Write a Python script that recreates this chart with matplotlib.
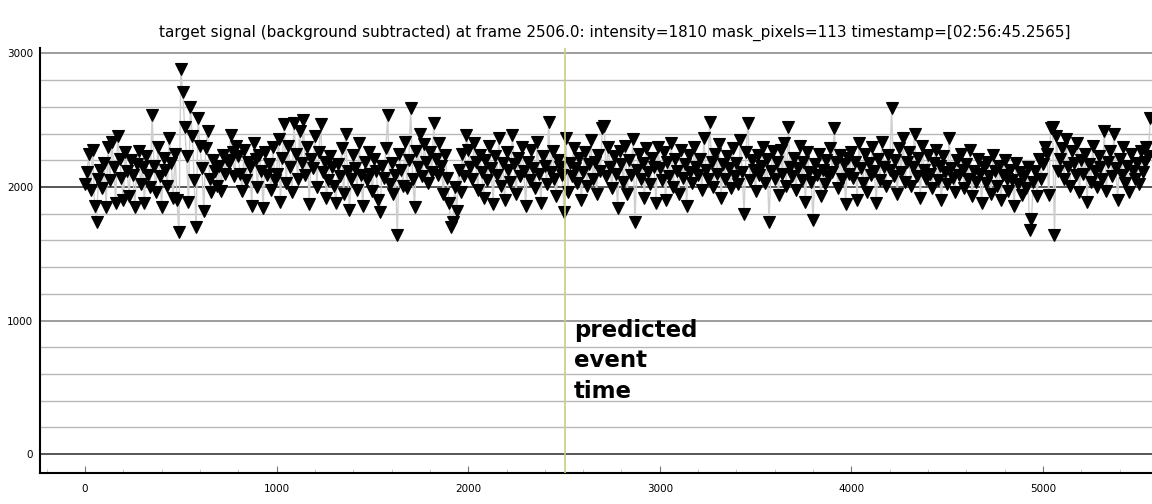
import matplotlib
matplotlib.use("Agg")
import matplotlib.pyplot as plt
import numpy as np

frame_step = 10
seg_0 = [2020, 2110, 2250, 1980, 2280, 1860, 1740, 2060, 2130, 1990,
         2180, 1850, 2300, 2050, 2340, 2150, 1880, 2380, 2210, 2070,
         1900, 2260, 2120, 1930, 2200, 2090, 1850, 2170, 2270, 2020,
         2150, 1880, 2230, 2090, 2000, 2540, 2160, 1960, 2300, 2080,
         1850, 2220, 2130, 2010, 2370, 2180, 1920, 2250, 1900, 1660,
         2880, 2710, 2450, 2230, 1890, 2600, 2380, 2050, 1700, 2520,
         2310, 2140, 1820, 2290, 2420, 2060, 1960, 2200, 2120, 2010,
         2160, 1970, 2240, 2100, 2200, 2180, 2390, 2260, 2080, 2310,
         2230, 2100, 1970, 2280, 2050, 2190, 2150, 1860, 2330, 2210,
         2000, 2240, 2120, 1840, 2260, 2090, 2170, 1980, 2300, 2050]
seg_1 = [2100, 2360, 1890, 2220, 2470, 2030, 2310, 2150, 1960, 2480,
         2250, 2060, 2420, 2180, 2500, 2090, 2300, 1870, 2210, 2140,
         2380, 2000, 2260, 2470, 2110, 2190, 1920, 2050, 2230, 2150,
         2010, 1880, 2170, 2080, 2290, 1950, 2400, 2120, 1830, 2060,
         2240, 2140, 1980, 2330, 2090, 1860, 2190, 2050, 2260, 2100,
         1970, 2210, 2120, 1900, 1810, 2160, 2070, 2290, 2540, 2020,
         2180, 1950, 2090, 1640, 2250, 2130, 2010, 2340, 1990, 2200,
         2590, 2060, 1850, 2270, 2150, 2400, 2080, 2320, 2190, 2030,
         2260, 2110, 2480, 2210, 2090, 2330, 2160, 1950, 2240, 2070,
         1880, 1700, 1740, 2000, 1820, 2130, 1960, 2250, 2080, 2390]
seg_2 = [2280, 2150, 2060, 2330, 2190, 1980, 2240, 2110, 1920, 2200,
         2050, 2310, 2140, 1870, 2230, 2090, 2370, 2010, 2180, 1900,
         2260, 2130, 2040, 2390, 2170, 1950, 2220, 2080, 2300, 2120,
         1860, 2190, 2050, 2280, 2140, 1990, 2340, 2100, 1880, 2230,
         2160, 2020, 2490, 2110, 2270, 2060, 1930, 2200, 2150, 2090,
         1810, 2370, 1960, 2180, 2080, 2290, 2140, 2030, 2220, 1900,
         2110, 2260, 2010, 2170, 2350, 2060, 2190, 1950, 2240, 2120,
         2440, 2460, 2080, 2300, 2150, 1990, 2230, 2100, 1840, 2270,
         2170, 2040, 2310, 1950, 2200, 2090, 2360, 1740, 2130, 2250,
         2060, 2180, 1920, 2290, 2110, 2020, 2220, 2150, 1880, 2300]
seg_3 = [2140, 2050, 2260, 1900, 2190, 2080, 2330, 2000, 2210, 2120,
         1950, 2280, 2070, 2170, 1860, 2240, 2110, 2030, 2300, 2150,
         2090, 2210, 1980, 2370, 2130, 2060, 2490, 2190, 2000, 2250,
         2100, 2320, 1920, 2170, 2060, 2230, 2140, 1990, 2290, 2080,
         2180, 2020, 2350, 2110, 1800, 2260, 2480, 2050, 2200, 2130,
         1970, 2240, 2090, 2160, 2300, 2030, 2210, 1740, 2120, 2270,
         2060, 2190, 1940, 2280, 2100, 2330, 2010, 2450, 2150, 2080,
         2220, 1980, 2140, 2310, 2050, 2190, 1890, 2260, 2110, 2040,
         1750, 2170, 2090, 2250, 1930, 2130, 2020, 2200, 2080, 2290,
         2110, 2440, 2190, 1990, 2240, 2060, 2170, 1870, 2220, 2100]
seg_4 = [2260, 2070, 2190, 1900, 2330, 2140, 2030, 2250, 1960, 2180,
         2090, 2300, 2120, 1880, 2210, 2050, 2340, 2150, 2010, 2240,
         2130, 2590, 2080, 2200, 1950, 2290, 2110, 2370, 2040, 2190,
         2260, 2010, 2150, 2400, 2080, 2220, 1920, 2310, 2130, 2060,
         2240, 2100, 1990, 2180, 2280, 2050, 2160, 1900, 2230, 2110,
         2020, 2370, 2140, 2070, 1960, 2200, 2090, 2250, 2130, 1990,
         2170, 2060, 2280, 1930, 2120, 2040, 2210, 2100, 1880, 2150,
         2030, 2190, 2080, 1950, 2240, 2120, 2010, 2160, 1900, 2090,
         2200, 2060, 1970, 2130, 2050, 1860, 2180, 2020, 2110, 1940,
         2080, 1990, 2150, 1680, 1760, 2040, 2120, 1930, 2210, 2060]
seg_5 = [2170, 2300, 2250, 1940, 2440, 2450, 1640, 2380, 2120, 2210,
         2290, 2060, 2360, 2150, 2010, 2270, 2180, 2090, 2330, 1960,
         2200, 2100, 2250, 1890, 2170, 2040, 2310, 2120, 2000, 2230,
         2150, 2060, 2420, 1970, 2190, 2270, 2080, 2400, 2140, 1900,
         2210, 2090, 2300, 2030, 2160, 1960, 2250, 2120, 2060, 2180,
         2020, 2270, 2110, 2190, 2300, 2230, 2520]

event_frame = 2506.0
title = ("target signal (background subtracted) at frame 2506.0: intensity=1810 "
         "mask_pixels=113 timestamp=[02:56:45.2565]")
event_label = "predicted\nevent\ntime"

intensity = np.array(seg_0 + seg_1 + seg_2 + seg_3 + seg_4 + seg_5)
frames = np.arange(len(intensity)) * frame_step

fig = plt.figure(figsize=(11.52, 5.04), dpi=100)
ax = fig.add_axes([40 / 1152, 31 / 504, 1112 / 1152, 425 / 504])

# horizontal grid like pyqtgraph: darker lines at the thousands
for level in range(0, 3001, 200):
    if level in (0, 2000):
        c, lw = "#3a3a3a", 1.2
    elif level % 1000 == 0:
        c, lw = "#8c8c8c", 1.2
    else:
        c, lw = "#b8b8b8", 1.0
    ax.axhline(level, color=c, lw=lw, zorder=0)

ax.plot(frames, intensity, color="#cfcfcf", lw=1.0, zorder=1)
ax.plot(frames, intensity, ls="none", marker="v", ms=8, color="black",
        markeredgecolor="black", markeredgewidth=0.8, zorder=2)

ax.axvline(event_frame, color="#cccc80", lw=1.2, zorder=3)
ax.text(event_frame + 45, 1010, event_label, fontsize=16.5, fontweight="bold",
        va="top", ha="left", linespacing=1.4, color="black")

ax.set_xlim(-235, 5569)
ax.set_ylim(-142, 3041)
ax.set_xticks([0, 1000, 2000, 3000, 4000, 5000])
ax.set_xticks(np.arange(-200, 5600, 200), minor=True)
ax.set_yticks([0, 1000, 2000, 3000])
ax.tick_params(axis="x", which="major", direction="in", length=5, color="#777777",
               labelsize=7.5, pad=8)
ax.tick_params(axis="x", which="minor", direction="in", length=3, color="#c0c0c0")
ax.tick_params(axis="y", which="major", length=0, labelsize=7.5, pad=5)

for side in ("top", "right"):
    ax.spines[side].set_visible(False)
for side in ("left", "bottom"):
    ax.spines[side].set_linewidth(1.5)
    ax.spines[side].set_color("black")

fig.text(615 / 1152, 1 - 33 / 504, title, ha="center", va="center", fontsize=11)

fig.savefig("out.png", dpi=100)
